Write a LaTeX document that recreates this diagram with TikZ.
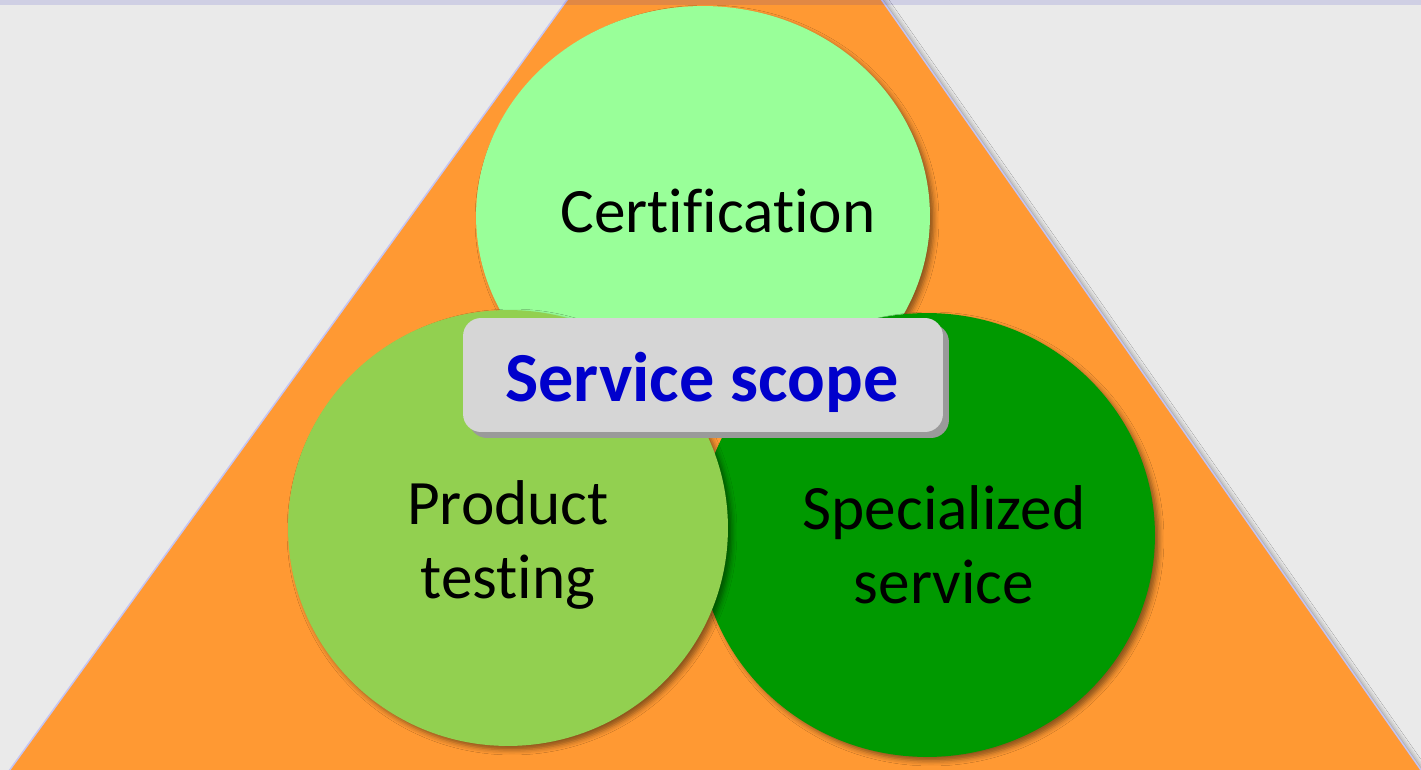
\documentclass[tikz,border=0pt]{standalone}
\usepackage{fontspec}
\setmainfont[Ligatures=NoCommon]{Carlito}
\usetikzlibrary{positioning, shapes.geometric, shadows, shadows.blur}
\definecolor{bggray}{RGB}{234, 234, 234}
\definecolor{pyramid}{RGB}{255, 153, 51}
\definecolor{pyramidedge}{RGB}{196, 196, 244}
\definecolor{stripblue}{RGB}{16, 16, 192}
\definecolor{certgreen}{RGB}{153, 255, 153}
\definecolor{prodgreen}{RGB}{146, 208, 80}
\definecolor{specgreen}{RGB}{0, 153, 0}
\definecolor{boxgray}{RGB}{214, 214, 214}
\definecolor{boxshadow}{RGB}{154, 154, 154}
\definecolor{scopeblue}{RGB}{0, 0, 204}

\begin{document}
\begin{tikzpicture}[
    x=0.02cm, y=-0.02cm,
    softshadow/.style={blur shadow={shadow xshift=0.08cm, shadow yshift=-0.08cm, shadow blur radius=0.1cm, shadow opacity=45}},
    areacircle/.style={ellipse, inner sep=0pt, draw=none, softshadow},
    circletext/.style={align=center, text=black, font=\fontsize{36}{42}\selectfont},
    scopebox/.style={rectangle, rounded corners=0.36cm, fill=boxgray, minimum width=9.6cm, minimum height=2.28cm,
        drop shadow={shadow xshift=0.12cm, shadow yshift=-0.12cm, opacity=1, fill=boxshadow}},
    scopetext/.style={text=scopeblue, font=\fontsize{40}{48}\selectfont\bfseries}
]
    % Background
    \useasboundingbox (0,0) rectangle (1421,770);
    \fill[bggray] (0,0) rectangle (1421,770);
    \clip (0,0) rectangle (1421,770);

    % Pyramid
    \fill[pyramid, draw=pyramidedge, line width=0.03cm, softshadow] (727,-221) -- (-12,800) -- (1442,800) -- cycle;

    % Top strip
    \fill[stripblue, opacity=0.12, rounded corners=0.1cm] (-10,-10) rectangle (1440,5);

    % Circles
    \node (cert) [areacircle, fill=certgreen, minimum width=9.08cm, minimum height=8.4cm] at (703,216) {};
    \node (spec) [areacircle, fill=specgreen, minimum width=9.12cm, minimum height=8.88cm] at (927,535) {};
    \node (prod) [areacircle, fill=prodgreen, minimum width=8.8cm, minimum height=8.72cm] at (508,528) {};

    % Labels
    \node (certtext) [circletext] at ([xshift=0.3cm, yshift=0.1cm]cert.center) {Certification};
    \node (prodtext) [circletext] at ([yshift=-0.34cm]prod.center) {Product\\testing};
    \node (spectext) [circletext] at ([xshift=0.34cm, yshift=-0.2cm]spec.center) {Specialized\\service};

    % Center box
    \node (scope) [scopebox] at (703,375) {};
    \node (scopelabel) [scopetext] at ([xshift=-0.02cm, yshift=-0.14cm]scope.center) {Service scope};
\end{tikzpicture}
\end{document}
